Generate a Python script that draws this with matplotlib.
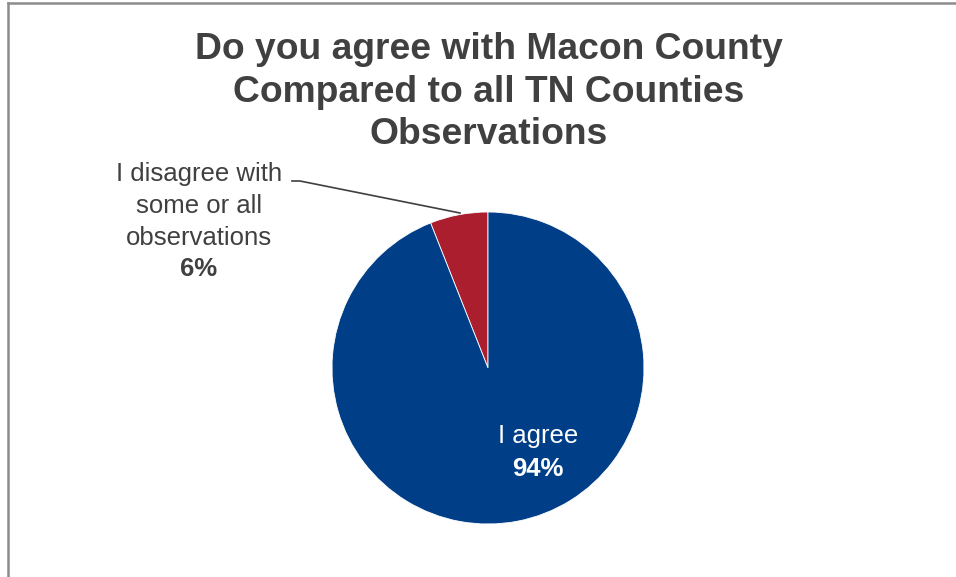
import matplotlib
matplotlib.use("Agg")
import matplotlib.pyplot as plt
from matplotlib.lines import Line2D

categories = ["I disagree with\nsome or all\nobservations", "I agree"]
values = [6, 94]
pct_labels = ["6%", "94%"]
colors = ["#AA1E2E", "#003F87"]
title_lines = ["Do you agree with Macon County", "Compared to all TN Counties", "Observations"]

W, H = 956, 577
fig = plt.figure(figsize=(W / 100, H / 100), dpi=100)
fig.patch.set_facecolor("white")
plt.rcParams["font.family"] = ["Liberation Sans", "DejaVu Sans"]

# border (top and left visible)
fig.add_artist(Line2D([8 / W, 8 / W], [0, 1 - 3 / H], transform=fig.transFigure, color="#8C8C8C", lw=1.8))
fig.add_artist(Line2D([8 / W, 1], [1 - 3 / H, 1 - 3 / H], transform=fig.transFigure, color="#8C8C8C", lw=1.8))

cx, cy, r = 488, 368, 156
ax = fig.add_axes([(cx - r) / W, (H - cy - r) / H, 2 * r / W, 2 * r / H])
ax.pie(values, colors=colors, startangle=90, counterclock=True, radius=1,
       wedgeprops=dict(edgecolor="white", linewidth=0.6))
ax.set_xlim(-1, 1)
ax.set_ylim(-1, 1)
ax.set_aspect("auto")
ax.axis("off")

def d(px, py):
    return (px - cx) / r, (cy - py) / r

gray = "#404040"
# title
for i, line in enumerate(title_lines):
    fig.text(489 / W, 1 - (59 + 42.5 * i) / H, line, ha="center", va="baseline",
             fontsize=26.8, fontweight="bold", color=gray)

# agree label
x, y = d(538, 443)
ax.text(x, y, categories[1], ha="center", va="baseline", fontsize=18.5, color="white")
x, y = d(538, 476)
ax.text(x, y, pct_labels[1], ha="center", va="baseline", fontsize=18.5, fontweight="bold", color="white")

# disagree label
for i, line in enumerate(categories[0].split("\n")):
    x, y = d(199, 181 + 32 * i)
    ax.text(x, y, line, ha="center", va="baseline", fontsize=18.5, color=gray, clip_on=False)
x, y = d(199, 276)
ax.text(x, y, pct_labels[0], ha="center", va="baseline", fontsize=18.5, fontweight="bold", color=gray, clip_on=False)

# leader line
pts = [d(292, 181), d(300, 181), d(460, 213)]
ax.add_line(Line2D([p[0] for p in pts], [p[1] for p in pts], color="#404040", lw=1.2, clip_on=False))

fig.savefig("out.png", dpi=100, facecolor="white")
